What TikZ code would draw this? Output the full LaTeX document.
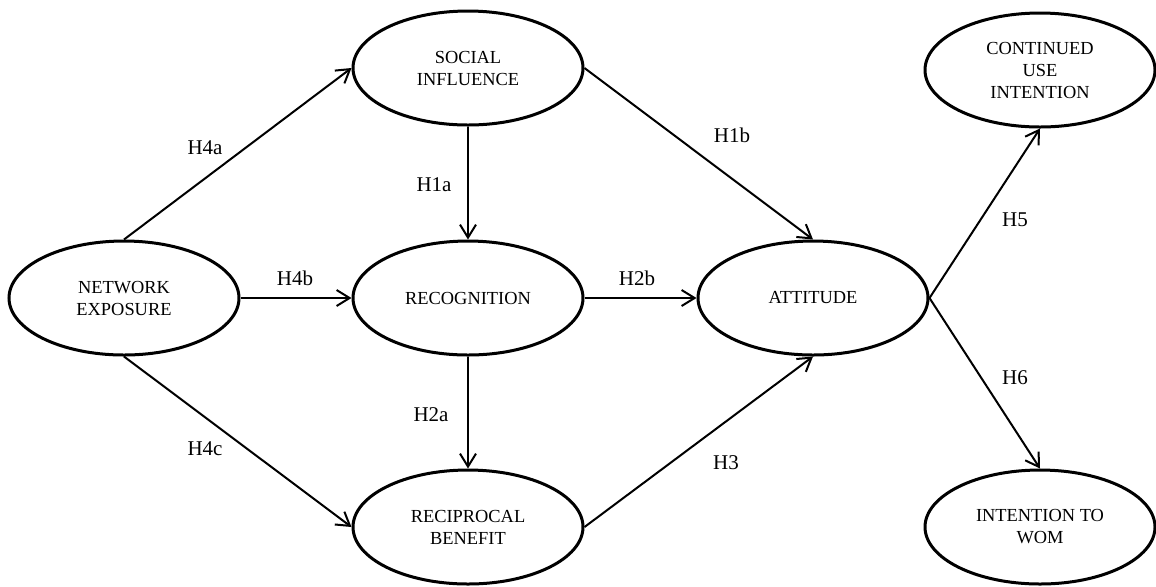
\documentclass[tikz,border=0pt]{standalone}
\usepackage{fontspec}
\setmainfont{Liberation Serif}
\usetikzlibrary{shapes.geometric,arrows.meta,positioning}

\begin{document}
\begin{tikzpicture}[x=0.5pt, y=-0.5pt,
    construct/.style={draw, ellipse, line width=1.5pt, minimum width=115pt,
                      minimum height=57pt, inner sep=0pt, align=center,
                      font=\fontsize{9.2}{11}\selectfont},
    hyp/.style={font=\fontsize{10.5}{12}\selectfont},
    arr/.style={-{Straight Barb[length=6.5pt,width=8pt]}, line width=1pt}
]
\useasboundingbox (0,0) rectangle (1156,586);

% Constructs
\node[construct] (net) at (124, 298) {NETWORK\\EXPOSURE};
\node[construct] (soc) at (468, 68) {SOCIAL\\INFLUENCE};
\node[construct] (rec) at (468, 298) {RECOGNITION};
\node[construct] (rb) at (468, 527) {RECIPROCAL\\BENEFIT};
\node[construct] (att) at (813, 298) {ATTITUDE};
\node[construct] (cui) at (1040, 70) {CONTINUED\\USE\\INTENTION};
\node[construct] (wom) at (1040, 527) {INTENTION TO\\WOM};

% Paths
\draw[arr] (net.north) -- (soc.west);
\draw[arr] (net.east) -- (rec.west);
\draw[arr] (net.south) -- (rb.west);
\draw[arr] (soc.south) -- (rec.north);
\draw[arr] (rec.south) -- (rb.north);
\draw[arr] (soc.east) -- (att.north);
\draw[arr] (rec.east) -- (att.west);
\draw[arr] (rb.east) -- (att.south);
\draw[arr] (att.east) -- (cui.south);
\draw[arr] (att.east) -- (wom.north);

% Hypotheses
\node[hyp] (h4a) at (205, 148) {H4a};
\node[hyp] (h4b) at (295, 278) {H4b};
\node[hyp] (h4c) at (205, 449) {H4c};
\node[hyp] (h1a) at (434, 185) {H1a};
\node[hyp] (h2a) at (431, 415) {H2a};
\node[hyp] (h1b) at (732, 135) {H1b};
\node[hyp] (h2b) at (637, 278) {H2b};
\node[hyp] (h3) at (726, 463) {H3};
\node[hyp] (h5) at (1015, 220) {H5};
\node[hyp] (h6) at (1015, 378) {H6};

\end{tikzpicture}
\end{document}
